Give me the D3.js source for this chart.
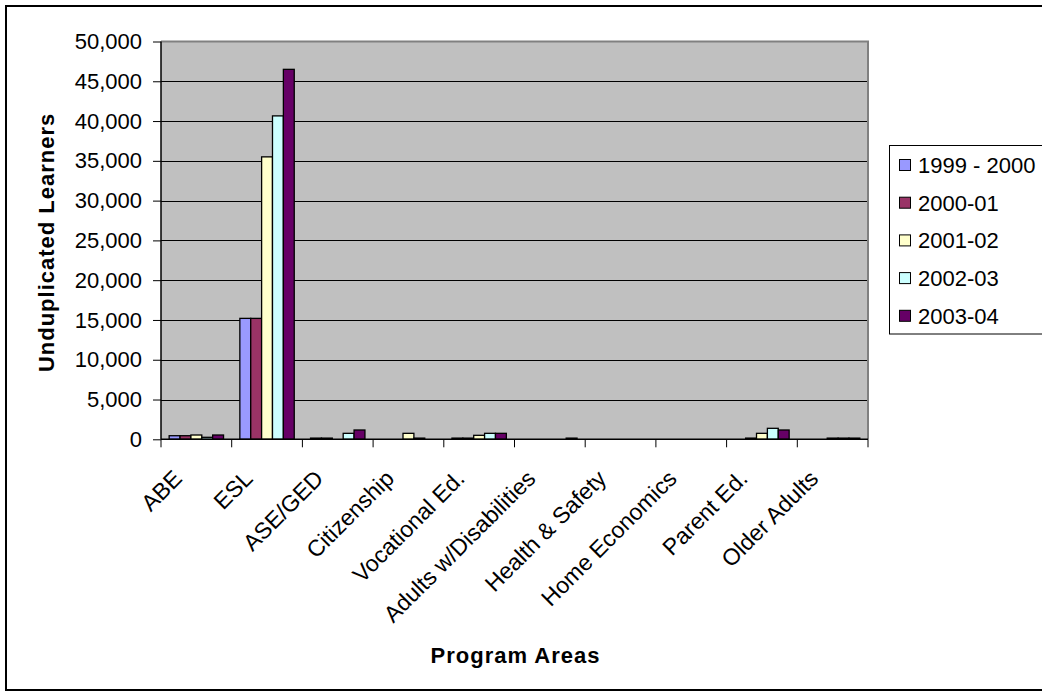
<!DOCTYPE html>
<html><head><meta charset="utf-8">
<script src="https://cdn.jsdelivr.net/npm/d3@7/dist/d3.min.js"></script>
<style>
html,body{margin:0;padding:0;background:#fff;}
svg{display:block;font-family:"Liberation Sans",Arial,sans-serif;}
</style></head>
<body>
<svg id="chart" width="1042" height="696"></svg>
<script>
const categories = ["ABE","ESL","ASE/GED","Citizenship","Vocational Ed.","Adults w/Disabilities","Health & Safety","Home Economics","Parent Ed.","Older Adults"];
const seriesNames = ["1999 - 2000","2000-01","2001-02","2002-03","2003-04"];
const s1999 = [450, 15200, 150, 0, 150, 0, 0, 0, 0, 0];
const s2000 = [450, 15200, 150, 0, 150, 0, 0, 0, 150, 0];
const s2001 = [540, 35500, 0, 750, 500, 0, 0, 0, 750, 150];
const s2002 = [250, 40650, 750, 150, 750, 0, 0, 0, 1380, 150];
const s2003 = [540, 46500, 1170, 0, 750, 150, 0, 0, 1170, 150];
const seriesColors = ["#9999FF","#993366","#FFFFCC","#CCFFFF","#660066"];
const yTicks = [0,5000,10000,15000,20000,25000,30000,35000,40000,45000,50000];

const seriesValues = [s1999, s2000, s2001, s2002, s2003];
const svg = d3.select("#chart");

// outer border
svg.append("rect").attr("x",6).attr("y",6).attr("width",1060).attr("height",684)
  .attr("fill","#fff").attr("stroke","#000").attr("stroke-width",2);

const L = 161, R = 868, T = 41.5, B = 439.3;
const x0 = d3.scaleBand().domain(categories).range([L, R]).paddingInner(0).paddingOuter(0);
const x1 = d3.scaleBand().domain(seriesNames).range([0, x0.bandwidth()]).paddingInner(0).paddingOuter(0.75);
const y = d3.scaleLinear().domain([0, 50000]).range([B, T]);

// plot background
svg.append("rect").attr("x",L).attr("y",T).attr("width",R-L).attr("height",B-T)
  .attr("fill","#C0C0C0");

// gridlines
svg.append("g").selectAll("line").data(yTicks.filter(d=>d>0 && d<50000)).join("line")
  .attr("x1",L).attr("x2",R).attr("y1",d=>Math.round(y(d))+0.5).attr("y2",d=>Math.round(y(d))+0.5)
  .attr("stroke","#000").attr("stroke-width",1);

// plot border top/right
svg.append("path").attr("d",`M${L},${T}H${R}V${B}`).attr("fill","none")
  .attr("stroke","#808080").attr("stroke-width",2);

// bars
const data = [];
categories.forEach((c,i)=>{
  seriesNames.forEach((s,j)=>{
    data.push({c, s, v: seriesValues[j][i], color: seriesColors[j]});
  });
});
svg.append("g").selectAll("rect").data(data.filter(d=>d.v>0)).join("rect")
  .attr("x", d=>x0(d.c)+x1(d.s))
  .attr("width", x1.bandwidth())
  .attr("y", d=>y(d.v))
  .attr("height", d=>B-y(d.v))
  .attr("fill", d=>d.color)
  .attr("stroke","#000").attr("stroke-width",1.3);

// y axis
const yAxis = d3.axisLeft(y).tickValues(yTicks).tickSize(8).tickPadding(11)
  .tickFormat(d3.format(","));
const gy = svg.append("g").attr("transform",`translate(${L},0)`).call(yAxis);
gy.select(".domain").attr("stroke","#000").attr("stroke-width",1.5).attr("d",`M0,${T}V${B}`);
gy.selectAll(".tick line").attr("stroke","#000");
gy.selectAll(".tick text").attr("font-size",22).attr("fill","#000")
  .attr("font-family","Liberation Sans, Arial, sans-serif");

// x axis
const xAxis = d3.axisBottom(x0).tickSize(0).tickFormat("");
const gx = svg.append("g").attr("transform",`translate(0,${B})`).call(xAxis);
gx.select(".domain").attr("stroke","#000").attr("stroke-width",1.5).attr("d",`M${L},0H${R}`);
// category boundary ticks
const bounds = categories.map(c=>x0(c)).concat([R]);
svg.append("g").selectAll("line").data(bounds).join("line")
  .attr("x1",d=>d).attr("x2",d=>d).attr("y1",B).attr("y2",B+8)
  .attr("stroke","#000").attr("stroke-width",1);

// x labels rotated
svg.append("g").selectAll("text").data(categories).join("text")
  .attr("transform", d=>`translate(${x0(d)+x0.bandwidth()/2-13},480) rotate(-45)`)
  .attr("text-anchor","end").attr("font-size",23).attr("fill","#000")
  .text(d=>d);

// axis titles
svg.append("text").attr("x",(L+R)/2+1).attr("y",663).attr("text-anchor","middle")
  .attr("font-size",22).attr("font-weight","bold").attr("letter-spacing",1).text("Program Areas");
svg.append("text").attr("transform",`translate(54,${(T+B)/2+2}) rotate(-90)`).attr("text-anchor","middle")
  .attr("font-size",22).attr("font-weight","bold").attr("letter-spacing",1).text("Unduplicated Learners");

// legend
const lg = svg.append("g");
lg.append("rect").attr("x",889.5).attr("y",145.5).attr("width",200).attr("height",188.5)
  .attr("fill","#fff").attr("stroke","#000").attr("stroke-width",1);
const items = lg.selectAll("g").data(seriesNames).join("g")
  .attr("transform",(d,i)=>`translate(0,${165 + i*37.7})`);
items.append("rect").attr("x",899.5).attr("y",-5.5).attr("width",11).attr("height",11)
  .attr("fill",(d,i)=>seriesColors[i]).attr("stroke","#000").attr("stroke-width",1);
items.append("text").attr("x",918).attr("y",0).attr("dy","0.36em").attr("font-size",22)
  .attr("fill","#000").text(d=>d);
</script>
</body></html>
